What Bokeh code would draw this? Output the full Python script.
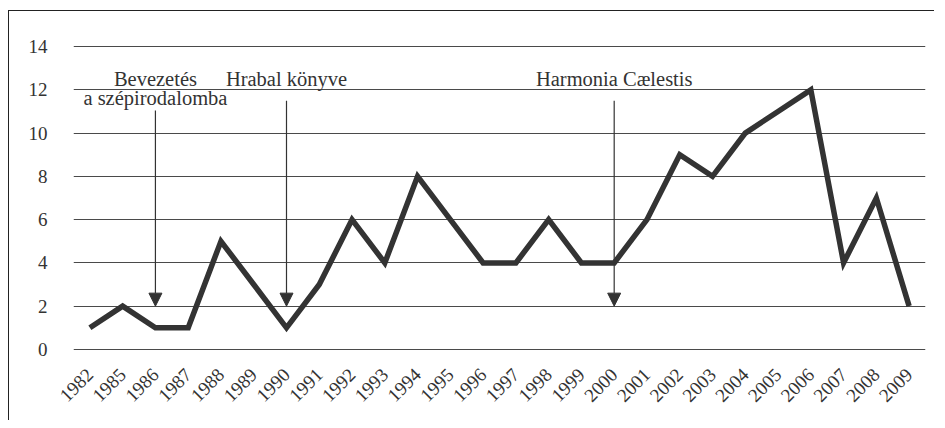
import math
from bokeh.plotting import figure
from bokeh.models import ColumnDataSource, Arrow, NormalHead, Range1d, FixedTicker
from bokeh.core.properties import value
from bokeh.embed import file_html
from bokeh.resources import INLINE

years = ["1982", "1985", "1986", "1987", "1988", "1989", "1990", "1991", "1992",
         "1993", "1994", "1995", "1996", "1997", "1998", "1999", "2000", "2001",
         "2002", "2003", "2004", "2005", "2006", "2007", "2008", "2009"]
counts = [1, 2, 1, 1, 5, 3, 1, 3, 6, 4, 8, 6, 4, 4, 6, 4, 4, 6, 9, 8, 10, 11, 12, 4, 7, 2]

y_ticks = [0, 2, 4, 6, 8, 10, 12, 14]

label_texts = ["Bevezetés", "a szépirodalomba", "Hrabal könyve", "Harmonia Cælestis"]
label_years = ["1986", "1986", "1990", "2000"]
label_y = [12.5, 11.62, 12.5, 12.5]

arrow_years = ["1986", "1990", "2000"]
arrow_from = [11.05, 11.5, 11.5]
arrow_to = [2, 2, 2]

FONT = "Liberation Serif"
INK = "#333333"

p = figure(x_range=years, y_range=Range1d(-0.05, 14.05), width=926, height=410,
           output_backend="svg", toolbar_location=None,
           min_border_left=64, min_border_right=10, min_border_top=34, min_border_bottom=71)
p.styles = {"border-left": "1px solid #222222", "border-top": "1px solid #222222",
            "margin-left": "8px", "margin-top": "10px", "background-color": "white"}
p.outline_line_color = None
p.background_fill_color = "white"
p.border_fill_color = None

# grid
p.xgrid.grid_line_color = None
p.ygrid.ticker = FixedTicker(ticks=y_ticks)
p.ygrid.grid_line_color = "#4a4a4a"
p.ygrid.grid_line_width = 1

# y axis
p.yaxis.ticker = FixedTicker(ticks=y_ticks)
p.yaxis.axis_line_color = None
p.yaxis.major_tick_line_color = None
p.yaxis.minor_tick_line_color = None
p.yaxis.major_label_standoff = 20
p.yaxis.major_label_text_font = FONT
p.yaxis.major_label_text_font_size = "19px"
p.yaxis.major_label_text_color = INK

# x axis
p.xaxis.axis_line_color = None
p.xaxis.major_tick_line_color = None
p.xaxis.major_label_orientation = math.pi / 4
p.xaxis.major_label_standoff = 15
p.xaxis.major_label_text_font = FONT
p.xaxis.major_label_text_font_size = "19px"
p.xaxis.major_label_text_color = INK

# data line
p.line(x=years, y=counts, line_color=INK, line_width=5.5, line_join="miter")

# annotation labels
lab_src = ColumnDataSource(dict(x=label_years, y=label_y, t=label_texts))
p.text(x="x", y="y", text="t", source=lab_src, text_align="center",
       text_baseline="alphabetic", text_font=value(FONT), text_font_size="20.5px",
       text_color=INK)

# arrows
ax = [years.index(y) + 0.5 for y in arrow_years]
arr_src = ColumnDataSource(dict(x0=ax, y0=arrow_from, x1=ax, y1=arrow_to))
p.add_layout(Arrow(x_start="x0", y_start="y0", x_end="x1", y_end="y1", source=arr_src,
                   line_color=INK, line_width=1.2,
                   end=NormalHead(size=13, fill_color=INK, line_color=INK, line_width=1)))

open("out.html", "w").write(file_html(p, INLINE))
